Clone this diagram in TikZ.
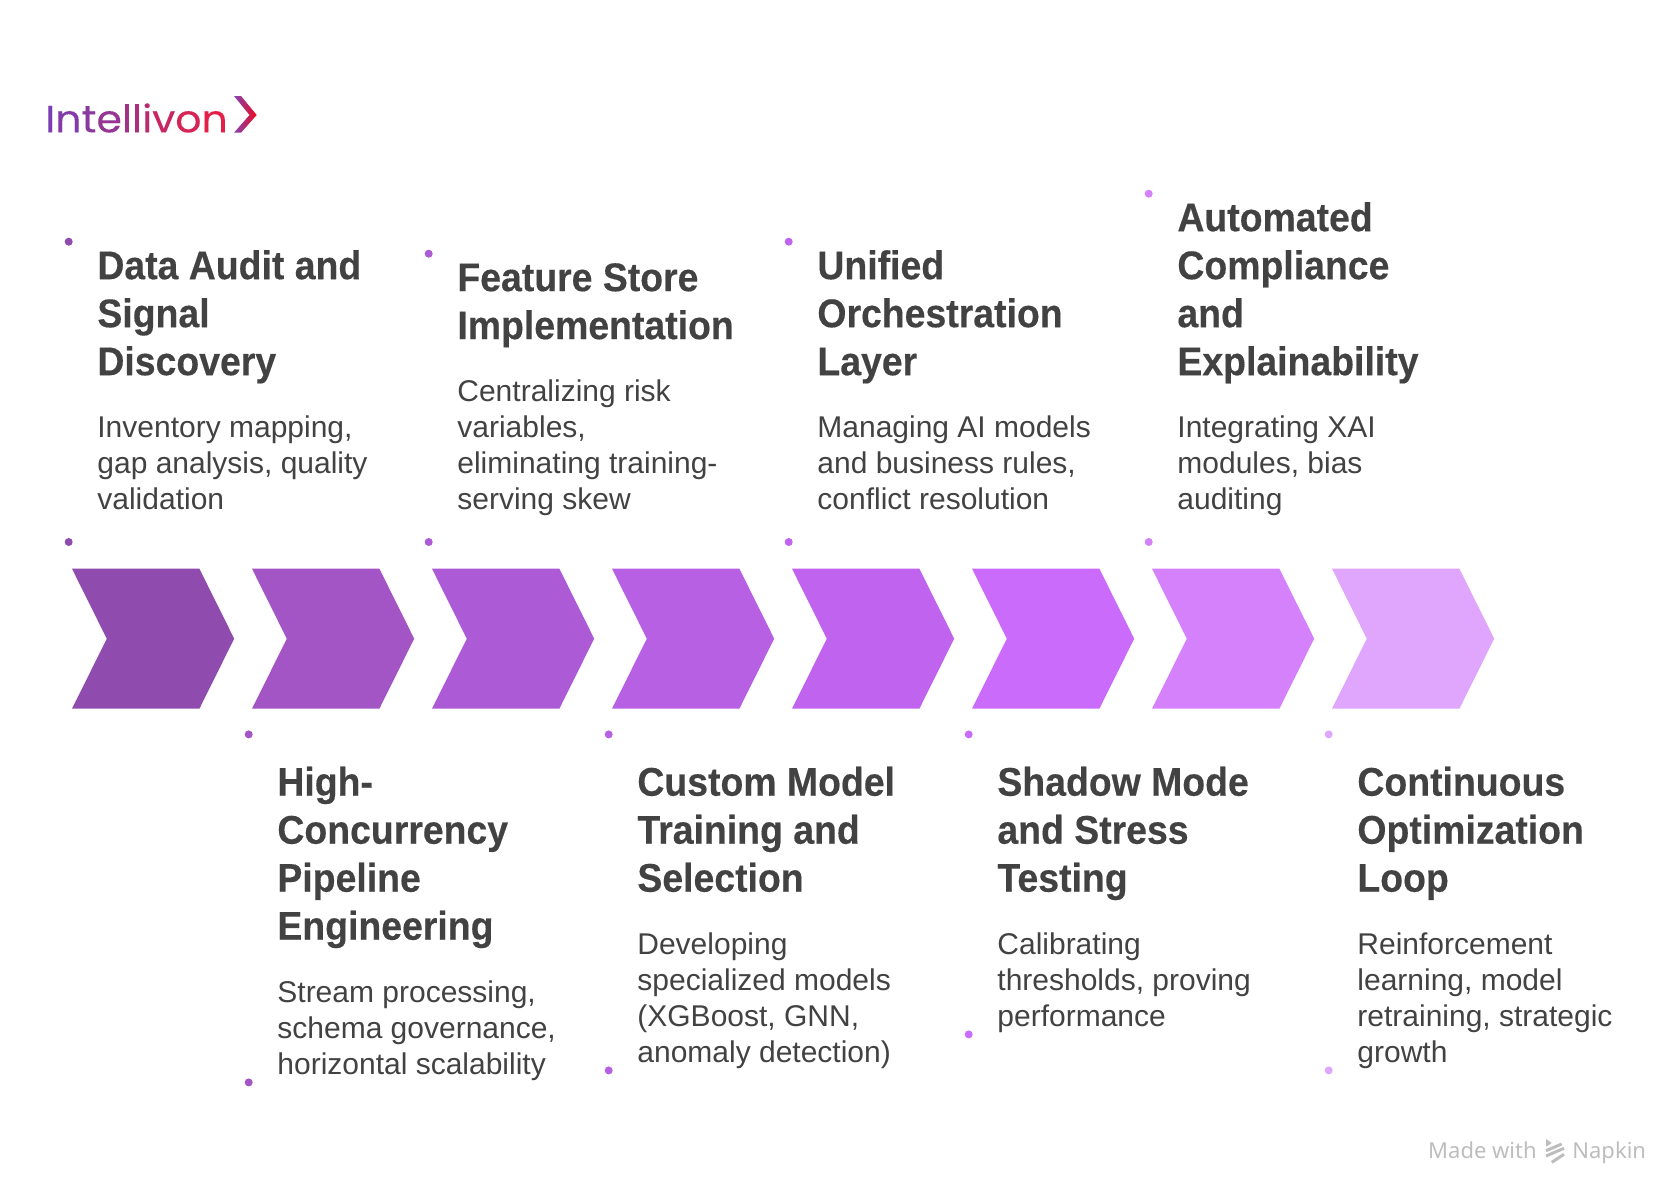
\documentclass[tikz,border=0pt]{standalone}
\usepackage{fontspec}
\setmainfont{Liberation Sans}
\newfontfamily\headfont{Liberation Sans}[FakeStretch=0.935,FakeBold=0.3]
\newfontfamily\logofont{Poppins}[FakeStretch=1.08,FakeBold=0.2]
\newfontfamily\markfont{Noto Sans}
\usetikzlibrary{positioning}

\definecolor{ink}{HTML}{424242}
\definecolor{markgray}{HTML}{BDBDBD}
\definecolor{p1}{HTML}{904BAE}
\definecolor{p2}{HTML}{A355C6}
\definecolor{p3}{HTML}{AD5AD7}
\definecolor{p4}{HTML}{B760E4}
\definecolor{p5}{HTML}{C064EF}
\definecolor{p6}{HTML}{CA6BFB}
\definecolor{p7}{HTML}{D681FC}
\definecolor{p8}{HTML}{E0A5FD}

\begin{document}
\begin{tikzpicture}[x=1pt,y=-1pt]

\tikzstyle{headtext} = [
  anchor=north west,
  inner sep=0pt,
  align=left,
  text=ink,
  font=\fontsize{40}{48}\selectfont\headfont\bfseries,
  execute at begin node={\rule{0pt}{1em}},
  execute at end node={\rule[-.3em]{0pt}{.3em}}]
\tikzstyle{bodytext} = [
  inner sep=0pt,
  align=left,
  text=ink,
  font=\fontsize{30}{36}\selectfont,
  execute at begin node={\rule{0pt}{1em}}]
\tikzstyle{dot} = [circle,inner sep=0pt,minimum size=8pt]
\tikzstyle{marktext} = [anchor=base west,inner sep=0pt,text=markgray,font=\fontsize{22}{22}\selectfont\markfont]

\useasboundingbox (0,0) rectangle (1673,1184);

% logo
\node (logo) [anchor=base west,inner sep=0pt,font=\fontsize{38}{38}\selectfont\logofont] at (45,132.3) {%
\textcolor[HTML]{7A3DB3}{I}\textcolor[HTML]{823BA8}{n}\textcolor[HTML]{8A399F}{t}\textcolor[HTML]{963594}{e}\textcolor[HTML]{A23288}{l}\textcolor[HTML]{AE2E7C}{l}\textcolor[HTML]{BA2A70}{i}\textcolor[HTML]{C82663}{v}\textcolor[HTML]{D62456}{o}\textcolor[HTML]{E42048}{n}};
\shade[left color=p1!90!blue,right color=red!85!p1] (234,96) -- (241,96) -- (256.7,115) -- (241,132.7) -- (234,132.7) -- (249.5,115) -- cycle;

\def\chev#1#2{\fill[#2] (#1,568.7) -- ++(127.4,0) -- ++(34.8,70) -- ++(-34.8,70) -- ++(-127.4,0) -- ++(34.8,-70) -- cycle;}

\def\phase#1#2#3#4#5{
\node (h#1) [headtext] at (#2,#3-40) {#4};
\node (b#1) [bodytext,below=28.2pt of h#1.south west,anchor=north west] {#5};
}

\def\spots#1#2#3#4#5{
\node (d#1a) [dot,fill=#5] at (#2,#3) {};
\node (d#1b) [dot,fill=#5] at (#2,#4) {};
}

\chev{72}{p1};
\chev{252}{p2};
\chev{432}{p3};
\chev{612}{p4};
\chev{792}{p5};
\chev{972}{p6};
\chev{1152}{p7};
\chev{1332}{p8};

\phase{1}{97.2}{290}{Data Audit and\\Signal\\Discovery}{Inventory mapping,\\gap analysis, quality\\validation};
\phase{3}{457.2}{303}{Feature Store\\Implementation}{Centralizing risk\\variables,\\eliminating training-\\serving skew};
\phase{5}{817.2}{290}{Unified\\Orchestration\\Layer}{Managing AI models\\and business rules,\\conflict resolution};
\phase{7}{1177.2}{242}{Automated\\Compliance\\and\\Explainability}{Integrating XAI\\modules, bias\\auditing};

\phase{2}{277.2}{806.5}{High-\\Concurrency\\Pipeline\\Engineering}{Stream processing,\\schema governance,\\horizontal scalability};
\phase{4}{637.2}{806.5}{Custom Model\\Training and\\Selection}{Developing\\specialized models\\(XGBoost, GNN,\\anomaly detection)};
\phase{6}{997.2}{806.5}{Shadow Mode\\and Stress\\Testing}{Calibrating\\thresholds, proving\\performance};
\phase{8}{1357.2}{806.5}{Continuous\\Optimization\\Loop}{Reinforcement\\learning, model\\retraining, strategic\\growth};

\spots{1}{68.7}{241.7}{542}{p1};
\spots{3}{428.7}{253.7}{542}{p3};
\spots{5}{788.7}{241.7}{542}{p5};
\spots{7}{1148.7}{193.7}{542}{p7};

\spots{2}{248.7}{734.4}{1082.4}{p2};
\spots{4}{608.7}{734.4}{1070.4}{p4};
\spots{6}{968.7}{734.4}{1034.4}{p6};
\spots{8}{1328.7}{734.4}{1070.4}{p8};

% watermark
\node (made) [marktext] at (1428,1158) {Made with};
\node (napkin) [marktext] at (1572.2,1158) {Napkin};
\fill[markgray] (1546,1139) -- (1551.7,1143) -- (1546,1146.7) -- cycle;
\draw[markgray,line width=3pt] (1546,1150.7) -- (1561.7,1144);
\draw[markgray,line width=3pt] (1546,1156) -- (1564,1148.3);
\draw[markgray,line width=3pt] (1551.7,1162.3) -- (1564,1154.3);

\end{tikzpicture}
\end{document}
